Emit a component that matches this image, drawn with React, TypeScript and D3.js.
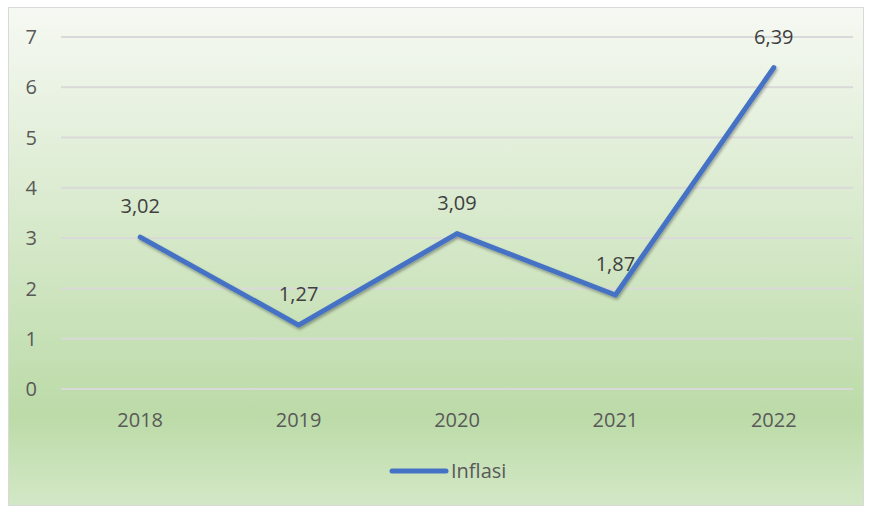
import { useEffect, useRef } from 'react';
import * as d3 from 'd3';

const years = ['2018', '2019', '2020', '2021', '2022'];
const inflasi = [3.02, 1.27, 3.09, 1.87, 6.39];
const yTicks = [0, 1, 2, 3, 4, 5, 6, 7];
const seriesName = 'Inflasi';

const App = () => {
  const ref = useRef<SVGSVGElement>(null);

  useEffect(() => {
    const svg = d3.select(ref.current);
    svg.selectAll('*').remove();

    const W = 872;
    const H = 508;
    const font = '"Open Sans", "Noto Sans", sans-serif';

    const defs = svg.append('defs');
    const grad = defs.append('linearGradient')
      .attr('id', 'bg').attr('x1', 0).attr('y1', 0).attr('x2', 0).attr('y2', 1);
    grad.append('stop').attr('offset', '0%').attr('stop-color', '#f6f9f3');
    grad.append('stop').attr('offset', '82%').attr('stop-color', '#bcdba8');
    grad.append('stop').attr('offset', '100%').attr('stop-color', '#d3e8c6');

    const shadow = defs.append('filter').attr('id', 'shadow')
      .attr('x', '-10%').attr('y', '-10%').attr('width', '120%').attr('height', '130%');
    shadow.append('feDropShadow')
      .attr('dx', 1).attr('dy', 2).attr('stdDeviation', 1.5)
      .attr('flood-color', '#000').attr('flood-opacity', 0.35);

    // background panel
    svg.append('rect')
      .attr('x', 8.5).attr('y', 7.5).attr('width', W - 17).attr('height', H - 10)
      .attr('fill', 'url(#bg)').attr('stroke', '#d9d9d9').attr('stroke-width', 1);

    const margin = { left: 61, right: 19, top: 37, bottom: 119 };
    const x = d3.scaleBand().domain(years).range([margin.left, W - margin.right]);
    const y = d3.scaleLinear().domain([0, 7]).range([H - margin.bottom, margin.top]);

    // gridlines
    svg.append('g')
      .selectAll('line')
      .data(yTicks)
      .join('line')
      .attr('x1', margin.left).attr('x2', W - margin.right)
      .attr('y1', d => y(d)).attr('y2', d => y(d))
      .attr('stroke', '#d9d9d9').attr('stroke-width', 2);

    // y tick labels
    svg.append('g')
      .selectAll('text')
      .data(yTicks)
      .join('text')
      .attr('x', 37).attr('y', d => y(d))
      .attr('dy', '0.36em')
      .attr('text-anchor', 'end')
      .style('font-family', font).style('font-size', '20px').style('fill', '#595959')
      .text(d => d);

    // x tick labels
    svg.append('g')
      .selectAll('text')
      .data(years)
      .join('text')
      .attr('x', d => x(d)! + x.bandwidth() / 2)
      .attr('y', y(0) + 38)
      .attr('text-anchor', 'middle')
      .style('font-family', font).style('font-size', '20px').style('fill', '#595959')
      .text(d => d);

    const pts = years.map((yr, i) => ({ yr, v: inflasi[i] }));
    const line = d3.line<{ yr: string; v: number }>()
      .x(d => x(d.yr)! + x.bandwidth() / 2)
      .y(d => y(d.v));

    svg.append('path')
      .datum(pts)
      .attr('d', line)
      .attr('fill', 'none')
      .attr('stroke', '#4472c4')
      .attr('stroke-width', 5)
      .attr('stroke-linejoin', 'round')
      .attr('stroke-linecap', 'round')
      .attr('filter', 'url(#shadow)');

    // data labels
    svg.append('g')
      .selectAll('text')
      .data(pts)
      .join('text')
      .attr('x', d => x(d.yr)! + x.bandwidth() / 2)
      .attr('y', d => y(d.v) - 24)
      .attr('text-anchor', 'middle')
      .style('font-family', font).style('font-size', '20px').style('fill', '#404040')
      .text(d => d.v.toFixed(2).replace('.', ','));

    // legend
    const lg = svg.append('g').attr('transform', 'translate(392, 471)');
    lg.append('line')
      .attr('x1', 0).attr('x2', 54).attr('y1', 0).attr('y2', 0)
      .attr('stroke', '#4472c4').attr('stroke-width', 5).attr('stroke-linecap', 'round');
    lg.append('text')
      .attr('x', 59).attr('y', 0).attr('dy', '0.36em')
      .style('font-family', font).style('font-size', '20px').style('fill', '#595959')
      .text(seriesName);
  }, []);

  return (
    <svg ref={ref} width={872} height={508} style={{ position: 'absolute', left: 0, top: 0 }} />
  );
};

export default App;
